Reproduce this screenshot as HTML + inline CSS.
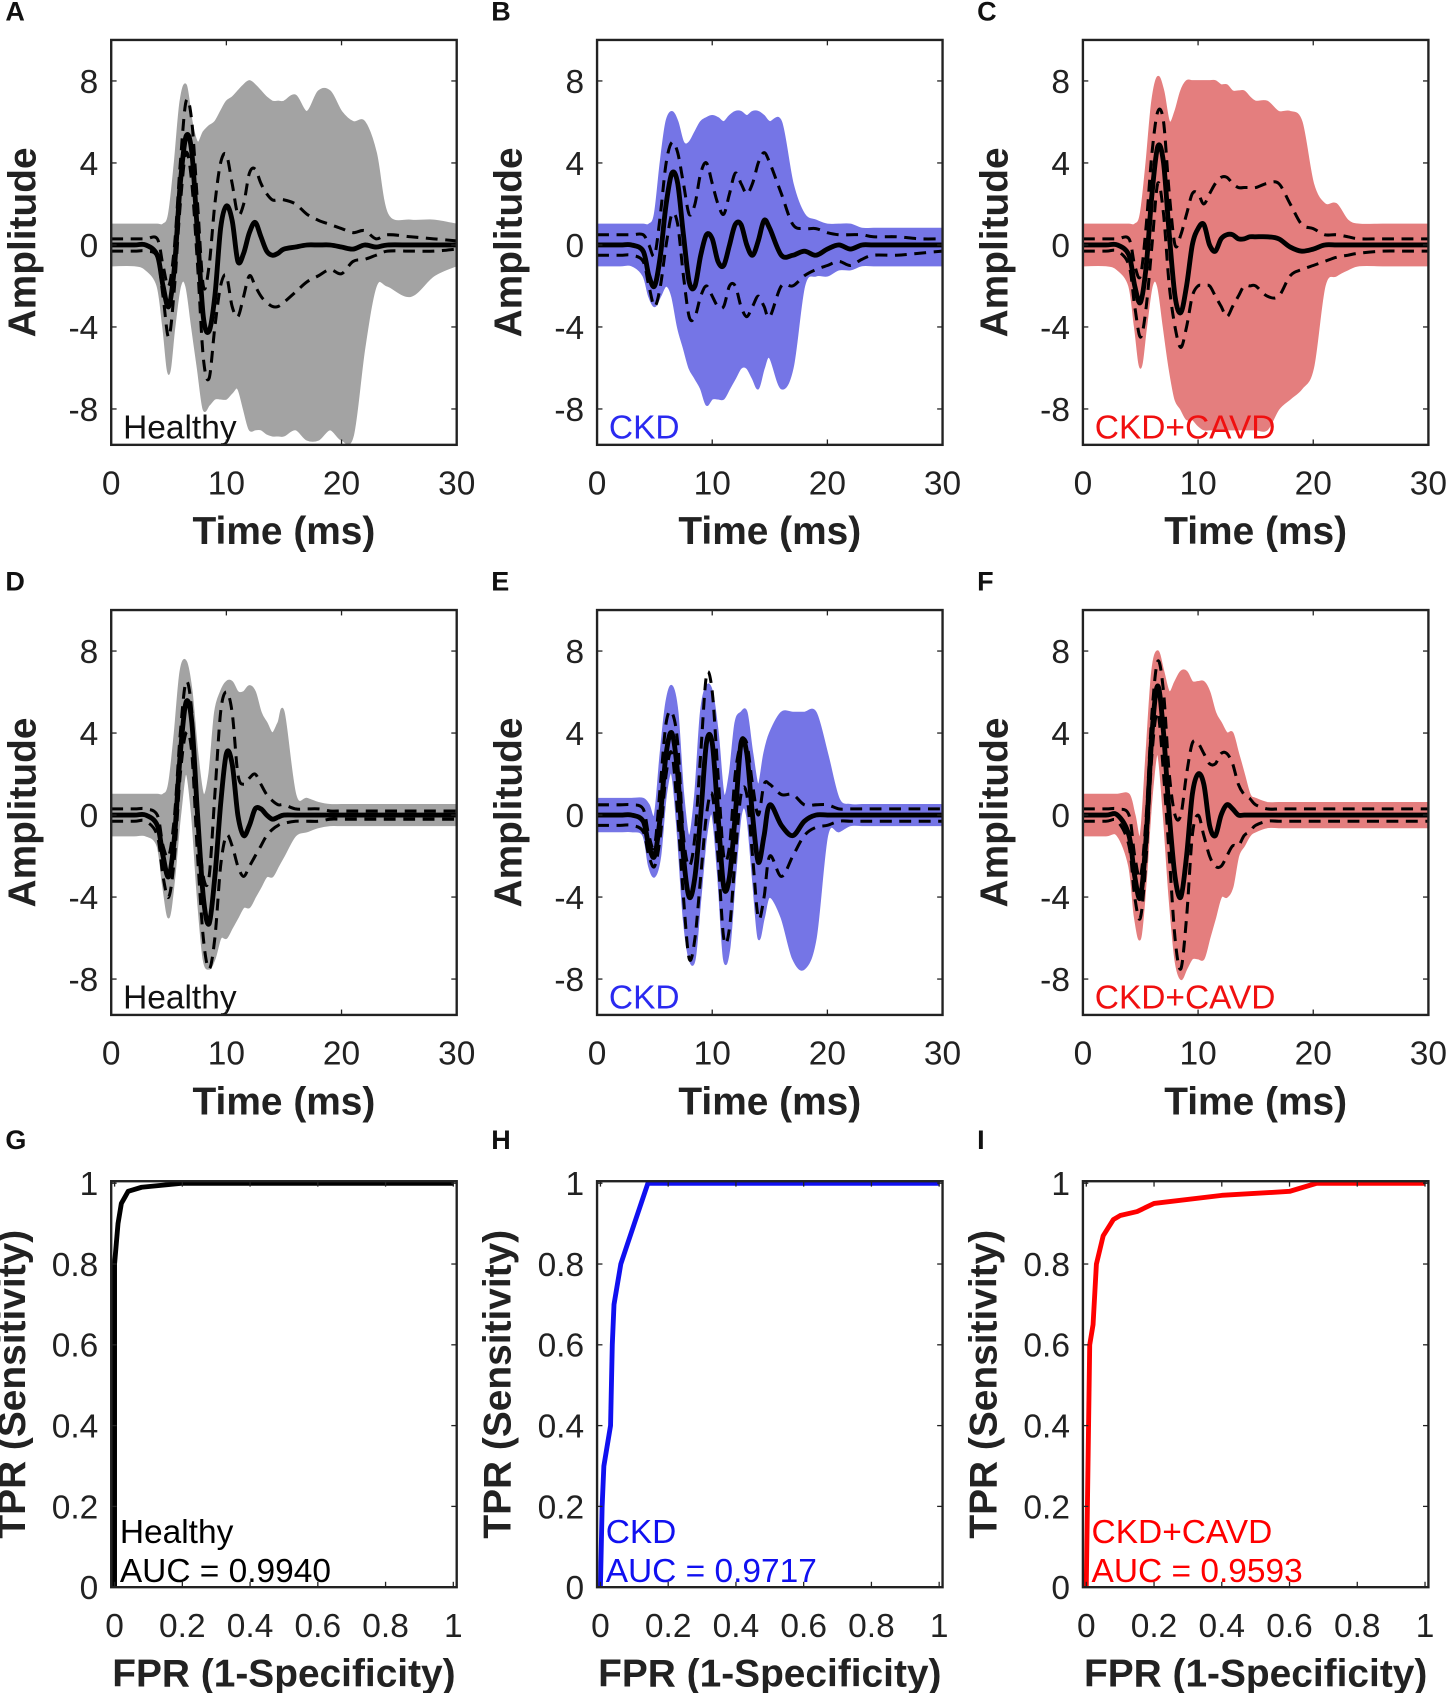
<!DOCTYPE html>
<html><head><meta charset="utf-8">
<style>
html,body{margin:0;padding:0;background:#fff;}
svg{display:block;font-family:"Liberation Sans",Arial,sans-serif;}
</style></head>
<body>
<svg id="fig" width="1450" height="1693" viewBox="0 0 1343 1568" preserveAspectRatio="none" xmlns="http://www.w3.org/2000/svg"></svg>
<script>
// ---- data ----
const timeMs = [0,2,3,4,4.5,5,5.5,6,6.5,7,7.5,8,8.5,9,9.5,10,10.5,11,11.5,12,12.5,13,13.5,14,14.5,15,16,17,18,19,20,21,22,23,24,26,28,30];
const timeTicks = [0,10,20,30];
const ampTicks = [-8,-4,0,4,8];
const rocTicks = [0,0.2,0.4,0.6,0.8,1];
const rocTickLabels = ["0","0.2","0.4","0.6","0.8","1"];

const aMean = [0,0,0,-0.5,-2,-3,-1,3,5.3,4.5,0.5,-3.5,-4.2,-2.5,0.8,1.9,1.2,-0.8,-0.4,0.6,1.1,0.4,-0.3,-0.5,-0.4,-0.2,-0.1,0,0,0,-0.1,-0.2,0,-0.1,0,0,0,0];
const aUpper = [0.3,0.3,0.3,0.3,-1,-2,0,4,7,6,2,-2,-1,2,4,4.4,3,1.5,2,3.5,3.7,3,2.5,2.2,2.2,2.2,2,1.5,1.2,1,0.8,0.6,0.7,0.3,0.5,0.4,0.3,0.2];
const aLower = [-0.3,-0.3,-0.3,-0.6,-2.5,-4.5,-2,2,4.5,3,-1,-5.5,-6.5,-4,-2,-1.5,-3,-3.5,-2.5,-1.5,-2,-2.5,-2.8,-3,-3,-2.8,-2.3,-1.8,-1.5,-1.2,-1.4,-0.8,-0.7,-0.5,-0.3,-0.3,-0.3,-0.2];
const aMax = [1,1,1,1,1,1.5,4,7,7.8,6,5,5.5,5.8,6,6.5,7,7.2,7.5,7.8,8,7.8,7.5,7.2,7,7,7,7.3,6.5,7.5,7.5,6.5,6,6,4.5,1.5,1.2,1.2,1];
const aMin = [-1,-1,-1.2,-2,-4,-6.3,-4,-2,-2,-4,-6,-8,-7.8,-7.5,-7.5,-7.5,-7.2,-7,-8,-9,-9,-9,-9.2,-9.3,-9.3,-9.3,-9,-9.5,-9.5,-9,-9.5,-9.3,-5,-2,-2,-2.5,-1.5,-1];

const bMean = [0,0,0,-0.3,-1.5,-2,-0.5,2,3.5,3,0.5,-1.8,-2,-0.5,0.5,0.3,-0.8,-1,0,1,1,0,-0.5,0.2,1.2,0.8,-0.5,-0.5,-0.3,-0.5,-0.2,0,-0.2,0,0,0,0,0];
const bUpper = [0.5,0.5,0.5,0.5,0,-0.5,1.5,4,5,4.5,3,1.5,2,3.5,4,3,2,1.5,2.5,3.5,3,2.5,3,4,4.5,4,2.5,1,0.8,0.8,0.6,0.5,0.5,0.5,0.4,0.4,0.3,0.3];
const bLower = [-0.5,-0.5,-0.5,-0.8,-2,-3,-2,0,1.5,1,-1.5,-3.5,-3.5,-2.5,-2,-2.5,-3,-3,-2,-2,-3,-3.5,-3,-2.5,-3,-3.5,-2,-2,-1.5,-1.2,-1,-0.8,-1,-0.7,-0.5,-0.5,-0.4,-0.3];
const bMax = [1,1,1,1,1,1.5,4,6,6.5,6,5,5,5.5,6,6.2,6.3,6.2,6,6.3,6.5,6.5,6.3,6.5,6.5,6.3,6,6,3,1.5,1.2,1,1,1,0.8,0.8,0.8,0.8,0.8];
const bMin = [-1,-1,-1,-1.5,-2.5,-3,-2.5,-2,-2.5,-4,-5,-6,-6.5,-7,-7.8,-7.5,-7.5,-7.5,-7,-6.5,-6,-6,-6.5,-7,-6,-5.5,-7,-6,-2,-1.5,-1.5,-1.2,-1.2,-1,-1,-1,-1,-1];

const cMean = [0,0,0,-0.5,-2,-2.8,-1,2.5,4.8,4,0.5,-2.5,-3.3,-2,0,0.8,1,0,-0.3,0.3,0.5,0.5,0.3,0.3,0.4,0.4,0.4,0.3,-0.1,-0.3,-0.2,0,0,0,0,0,0,0];
const cUpper = [0.3,0.3,0.3,0.3,-1,-1.5,1,4.5,6.5,6,2.5,0,0.5,1.5,2.5,2.5,2,2.5,3,3.3,3.3,3,2.8,2.8,2.8,2.8,3,3,2,1,0.8,0.5,0.5,0.4,0.3,0.3,0.3,0.3];
const cLower = [-0.3,-0.3,-0.3,-1,-3,-4.5,-3,0,3,1.5,-2,-4,-5,-4,-2.5,-2,-2,-2,-2.5,-3,-3.5,-3,-2.5,-2,-2,-2,-2.5,-2.5,-1.5,-1.2,-1,-0.8,-0.6,-0.5,-0.4,-0.3,-0.3,-0.3];
const cMax = [1,1,1,1,1,1.5,4,7,8.2,7.5,6,6.5,7.5,8,8,8,8,8,8,7.8,7.8,7.5,7.5,7.5,7.2,7,7,6.5,6.5,6,3,2,2,1.2,1,1,1,1];
const cMin = [-1,-1,-1.2,-2,-4,-6,-4,-2,-2,-4,-6,-7.5,-8,-8.5,-8.5,-8.8,-9,-9,-9,-9,-9,-9,-9,-9,-9,-9,-9,-8,-7.5,-7,-6,-2,-1.5,-1.2,-1,-1,-1,-1];

const dMean = [0,0,0,-0.5,-2,-3,-1,3,5.5,4.5,0,-4,-5.3,-3,0.5,3,2.5,0,-1,-0.5,0.3,0.3,0,-0.2,-0.1,0,0,0,0,0,0,0,0,0,0,0,0,0];
const dUpper = [0.3,0.3,0.3,0,-1.5,-2,0,4,6.5,5,0,-3,-3,1,5,6,5,2,1.5,1.8,2,1.5,1,0.7,0.5,0.5,0.3,0.3,0.3,0.2,0.2,0.2,0.2,0.2,0.2,0.2,0.2,0.2];
const dLower = [-0.3,-0.3,-0.3,-1,-3,-4,-2,2,4,3,-2,-6,-7.5,-6,-2.5,-1,-1.5,-2.5,-3,-2.5,-2,-1.5,-1,-0.7,-0.5,-0.4,-0.3,-0.3,-0.3,-0.2,-0.2,-0.2,-0.2,-0.2,-0.2,-0.2,-0.2,-0.2];
const dMax = [1,1,1,1,1,1.5,4,7,7.5,6,3,1,2,5,6,6.5,6.5,6,6,6.3,6,5,4.5,4,4.5,5,1,0.8,0.6,0.5,0.5,0.5,0.5,0.5,0.5,0.5,0.5,0.5];
const dMin = [-1,-1,-1,-1.5,-3.5,-5,-3,0,2,0,-4,-7,-7.5,-7,-6,-6,-5.5,-5,-4.5,-4.5,-4,-3.5,-3,-3,-2.5,-2,-1,-0.8,-0.6,-0.5,-0.5,-0.5,-0.5,-0.5,-0.5,-0.5,-0.5,-0.5];

const eMean = [0,0,0,-0.3,-1.5,-2,0,3,4,2,-2,-4,-3,0,3.5,3.5,0,-3.5,-3,0,3.5,3,0,-2.3,-1,0.5,-0.5,-1,-0.3,0,0,0,0,0,0,0,0,0];
const eUpper = [0.5,0.5,0.5,0.3,-1,-1.5,1.5,4.5,5,3.5,-1,-2.5,-1,3,6.8,6,2,-2,-1.5,2,3.5,3.5,1.5,0,1.5,1.5,1,1,0.5,0.5,0.5,0.3,0.3,0.3,0.3,0.3,0.3,0.3];
const eLower = [-0.5,-0.5,-0.5,-0.8,-2,-2.5,-1,2,3,0,-4,-7,-6,-3,0,1,-2,-6,-5.5,-2,1,1,-2,-5,-4,-2,-3,-2,-1,-0.6,-0.5,-0.3,-0.3,-0.3,-0.3,-0.3,-0.3,-0.3];
const eMax = [0.8,0.8,0.8,0.8,0.5,0,3,5.5,6.3,5,1,-1,1,5,6.3,6,4,1,2,4.5,5,5,3,1.5,3,4,5,5,5,5,3,0.8,0.5,0.5,0.5,0.5,0.5,0.5];
const eMin = [-0.8,-0.8,-0.8,-1,-2.5,-3,-2,1,2,-1,-5,-7,-7,-4,-1,0,-3,-7,-6.5,-3,0,0,-3,-6,-5,-4,-5,-7,-7.5,-6,-1,-0.8,-0.5,-0.5,-0.5,-0.5,-0.5,-0.5];

const fMean = [0,0,0,-1,-3,-4,-1,4,6.3,4,0,-3,-4,-2,1,2,1.5,-0.5,-1,0,0.5,0.3,0,0,0,0,0,0,0,0,0,0,0,0,0,0,0,0];
const fUpper = [0.3,0.3,0.3,0,-2,-3,0,5,7.5,6,2,0,0,2,3.5,3.5,3,2.5,2.5,3,3,2.5,1.5,1,0.8,0.5,0.3,0.3,0.3,0.3,0.3,0.3,0.3,0.3,0.3,0.3,0.3,0.3];
const fLower = [-0.3,-0.3,-0.3,-1.5,-4,-5,-2,3,5,2,-2,-6,-7.5,-5,-1,0,-1,-2,-2.5,-2.5,-2,-1.5,-1.5,-1,-0.8,-0.5,-0.3,-0.3,-0.3,-0.3,-0.3,-0.3,-0.3,-0.3,-0.3,-0.3,-0.3,-0.3];
const fMax = [1,1,1,1,0,-1,3,7,8,7,6,6.5,7,7,6.5,6.5,6.5,6,5,4.5,4,4,3,2,1,0.8,0.6,0.6,0.6,0.6,0.6,0.6,0.6,0.6,0.6,0.6,0.6,0.6];
const fMin = [-1,-1,-1,-2.5,-5,-6,-3,1,3,0,-4,-7,-8,-7.5,-7,-7,-7,-6,-5,-4,-4,-3.5,-2,-1.5,-1,-0.8,-0.6,-0.6,-0.6,-0.6,-0.6,-0.6,-0.6,-0.6,-0.6,-0.6,-0.6,-0.6];

const gFpr = [0,0,0.005,0.01,0.02,0.04,0.08,0.2,1];
const gTpr = [0,0.8,0.85,0.9,0.95,0.98,0.99,1,1];
const hFpr = [0,0.005,0.01,0.03,0.035,0.04,0.06,0.08,0.1,0.12,0.14,1];
const hTpr = [0,0.2,0.3,0.4,0.6,0.7,0.8,0.85,0.9,0.95,1,1];
const iFpr = [0,0.01,0.02,0.03,0.05,0.08,0.1,0.15,0.2,0.4,0.6,0.68,1];
const iTpr = [0,0.6,0.65,0.8,0.87,0.91,0.92,0.93,0.95,0.97,0.98,1,1];

// ---- drawing ----
const NS = "http://www.w3.org/2000/svg";
const svg = document.getElementById('fig');
function mk(tag, attrs, parent){const e=document.createElementNS(NS,tag);for(const k in attrs)e.setAttribute(k,attrs[k]);(parent||svg).appendChild(e);return e;}
function smooth(pts){
  let d="M"+pts[0][0].toFixed(1)+","+pts[0][1].toFixed(1);
  for(let i=0;i<pts.length-1;i++){
    const p0=pts[Math.max(0,i-1)],p1=pts[i],p2=pts[i+1],p3=pts[Math.min(pts.length-1,i+2)];
    const c1=[p1[0]+(p2[0]-p0[0])/6,p1[1]+(p2[1]-p0[1])/6];
    const c2=[p2[0]-(p3[0]-p1[0])/6,p2[1]-(p3[1]-p1[1])/6];
    d+="C"+c1[0].toFixed(1)+","+c1[1].toFixed(1)+" "+c2[0].toFixed(1)+","+c2[1].toFixed(1)+" "+p2[0].toFixed(1)+","+p2[1].toFixed(1);
  }
  return d;
}
let clipId=0;
function axesFrame(g,x0,y0,x1,y1,xTicks,xScale,yTicks,yScale,xLabels,yLabels,xTitle,yTitle,yTitleX){
  for(let i=0;i<xTicks.length;i++){
    const x=xScale(xTicks[i]);
    const t1=mk('line',{x1:x,y1:y1,x2:x,y2:y1-5,stroke:'#222','stroke-width':1.2},g);
    
    
    mk('line',{x1:x,y1:y0,x2:x,y2:y0+5,stroke:'#222','stroke-width':1.2},g);
    const tl=mk('text',{x:x,y:y1+46,'font-size':31,'text-anchor':'middle',fill:'#222'},g);
    tl.textContent=xLabels[i];
    
    
  }
  for(let i=0;i<yTicks.length;i++){
    const y=yScale(yTicks[i]);
    mk('line',{x1:x0,y1:y,x2:x0+5,y2:y,stroke:'#222','stroke-width':1.2},g);
    mk('line',{x1:x1,y1:y,x2:x1-5,y2:y,stroke:'#222','stroke-width':1.2},g);
    const tl=mk('text',{x:x0-12,y:y+11,'font-size':31,'text-anchor':'end',fill:'#222'},g);
    tl.textContent=yLabels[i];
    
    
  }
  const xt=mk('text',{x:(x0+x1)/2,y:y1+92,'font-size':36,'font-weight':'bold','text-anchor':'middle',fill:'#222'},g);
  xt.textContent=xTitle;
  
  
  const cy=(y0+y1)/2;
  const yt=mk('text',{x:yTitleX,y:cy,'font-size':36,'font-weight':'bold','text-anchor':'middle',fill:'#222',transform:'rotate(-90 '+yTitleX+' '+cy+')'},g);
  yt.textContent=yTitle;
  
  
}
function box(g,x0,y0,x1,y1){
  const r=mk('rect',{x:x0,y:y0,width:x1-x0,height:y1-y0,fill:'none',stroke:'#222','stroke-width':2.2},g);
  
  
}
function clip(x0,y0,x1,y1){
  const id='c'+(clipId++);
  const cp=mk('clipPath',{id:id});
  mk('rect',{x:x0,y:y0,width:x1-x0,height:y1-y0},cp);
  return 'url(#'+id+')';
}
function letter(txt,x,y){
  const t=mk('text',{x:x,y:y,'font-size':25,'font-weight':'bold',fill:'#111'});
  t.textContent=txt;
  
  
}

function wavePanel(name,letterTxt,x0,y0,x1,y1,band,upper,lower,mean,col,label,labelCol){
  const g=mk('g',{});
  
  
  const yMin=-9.75,yMax=10;
  const xs=v=>x0+(v-0)/(30-0)*(x1-x0);
  const ys=v=>y1-(v-yMin)/(yMax-yMin)*(y1-y0);
  const inner=mk('g',{'clip-path':clip(x0,y0,x1,y1)},g);
  const up=timeMs.map((t,i)=>[xs(t),ys(band[0][i])]);
  const lo=timeMs.map((t,i)=>[xs(t),ys(band[1][i])]).reverse();
  const dUp=smooth(up), dLo=smooth(lo);
  const bp=mk('path',{d:dUp+"L"+dLo.slice(1)+"Z",fill:col,stroke:col,'stroke-width':1.5},inner);
  
  
  const mp=mk('path',{d:smooth(timeMs.map((t,i)=>[xs(t),ys(mean[i])])),fill:'none',stroke:'#000','stroke-width':4.5},inner);
  
  
  const u=mk('path',{d:smooth(timeMs.map((t,i)=>[xs(t),ys(upper[i])])),fill:'none',stroke:'#000','stroke-width':2.8,'stroke-dasharray':'11,7'},inner);
  
  
  const l=mk('path',{d:smooth(timeMs.map((t,i)=>[xs(t),ys(lower[i])])),fill:'none',stroke:'#000','stroke-width':2.8,'stroke-dasharray':'11,7'},inner);
  
  
  const lt=mk('text',{x:x0+11,y:y1-6,'font-size':31,fill:labelCol},g);
  lt.textContent=label;
  
  
  box(g,x0,y0,x1,y1);
  axesFrame(g,x0,y0,x1,y1,timeTicks,xs,ampTicks,ys,timeTicks.map(String),ampTicks.map(String),'Time (ms)','Amplitude',x0-70);
  letter(letterTxt,x0-98,y0-18);
}
function rocPanel(name,letterTxt,x0,y0,x1,y1,fpr,tpr,col,label){
  const g=mk('g',{});
  
  
  const xs=v=>x0+(v+0.01)/1.02*(x1-x0);
  const ys=v=>y1-v/1.005*(y1-y0);
  const inner=mk('g',{'clip-path':clip(x0,y0-4,x1,y1)},g);
  let d="";
  for(let i=0;i<fpr.length;i++){d+=(i?"L":"M")+xs(fpr[i]).toFixed(1)+","+ys(tpr[i]).toFixed(1);}
  const p=mk('path',{d:d,fill:'none',stroke:col,'stroke-width':4.5,'stroke-linejoin':'round'},inner);
  
  
  const t1=mk('text',{x:x0+8,y:y1-41,'font-size':31,fill:col},g);
  t1.textContent=label[0];
  
  
  const t2=mk('text',{x:x0+8,y:y1-5,'font-size':31,fill:col},g);
  t2.textContent=label[1];
  
  
  box(g,x0,y0,x1,y1);
  axesFrame(g,x0,y0,x1,y1,rocTicks,xs,rocTicks,ys,rocTickLabels,rocTickLabels,'FPR (1-Specificity)','TPR (Sensitivity)',x0-80);
  letter(letterTxt,x0-98,y0-30);
}

const cols=[103,553,1003];
const gray='#a3a3a3', blue='#7575e6', red='#e47e7e';
wavePanel('panel-a','A',cols[0],37,cols[0]+320,412,[aMax,aMin],aUpper,aLower,aMean,gray,'Healthy','#111');
wavePanel('panel-b','B',cols[1],37,cols[1]+320,412,[bMax,bMin],bUpper,bLower,bMean,blue,'CKD','#2a2af0');
wavePanel('panel-c','C',cols[2],37,cols[2]+320,412,[cMax,cMin],cUpper,cLower,cMean,red,'CKD+CAVD','#f01010');
wavePanel('panel-d','D',cols[0],565,cols[0]+320,940,[dMax,dMin],dUpper,dLower,dMean,gray,'Healthy','#111');
wavePanel('panel-e','E',cols[1],565,cols[1]+320,940,[eMax,eMin],eUpper,eLower,eMean,blue,'CKD','#2a2af0');
wavePanel('panel-f','F',cols[2],565,cols[2]+320,940,[fMax,fMin],fUpper,fLower,fMean,red,'CKD+CAVD','#f01010');
rocPanel('panel-g','G',cols[0],1094,cols[0]+320,1470,gFpr,gTpr,'#000',['Healthy','AUC = 0.9940']);
rocPanel('panel-h','H',cols[1],1094,cols[1]+320,1470,hFpr,hTpr,'#1010f0',['CKD','AUC = 0.9717']);
rocPanel('panel-i','I',cols[2],1094,cols[2]+320,1470,iFpr,iTpr,'#f00',['CKD+CAVD','AUC = 0.9593']);
</script>
</body></html>
